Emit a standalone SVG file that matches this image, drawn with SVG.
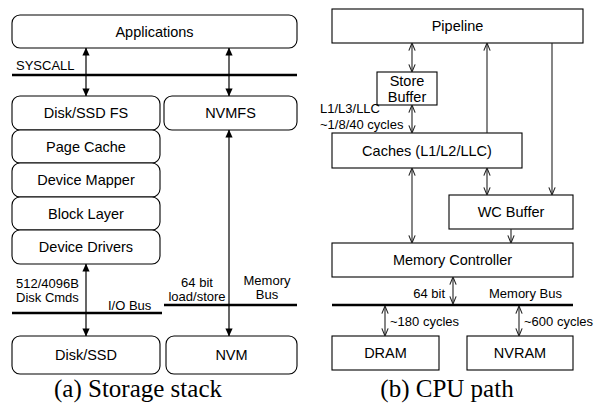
<svg xmlns="http://www.w3.org/2000/svg" width="596" height="411" viewBox="0 0 596 411">
  <style>
    .box { fill: #fff; stroke: #000; stroke-width: 1.1; }
    .lbl { font-family: "Liberation Sans", Arial, sans-serif; font-size: 14.5px; fill: #000; text-anchor: middle; }
    .sm { font-family: "Liberation Sans", Arial, sans-serif; font-size: 13px; fill: #000; }
    .bus { stroke: #000; stroke-width: 2.5; }
    .af { stroke: #000; stroke-width: 1.2; fill: none; }
    .ao { stroke: #222; stroke-width: 1.1; fill: none; }
    .cap { font-family: "Liberation Serif", "Times New Roman", serif; font-size: 25px; fill: #000; text-anchor: middle; }
  </style>
  <defs>
    <marker id="tri" viewBox="0 0 10 10" refX="9.5" refY="5" markerWidth="8" markerHeight="8" markerUnits="userSpaceOnUse" orient="auto-start-reverse">
      <path d="M0,0.5 L10,5 L0,9.5 Z" fill="#000"/>
    </marker>
    <marker id="vee" viewBox="0 0 10 10" refX="9.5" refY="5" markerWidth="9" markerHeight="9" markerUnits="userSpaceOnUse" orient="auto-start-reverse">
      <path d="M1,1.5 L9.5,5 L1,8.5" fill="none" stroke="#222" stroke-width="1.2"/>
    </marker>
  </defs>

  <!-- Storage stack -->
  <g id="applications"><rect class="box" x="12" y="15" width="285" height="33" rx="8"/><text class="lbl" x="154.5" y="36.5">Applications</text></g>
  <g id="disk-fs"><rect class="box" x="12" y="96" width="148" height="34" rx="8"/><text class="lbl" x="86" y="118">Disk/SSD FS</text></g>
  <g id="nvmfs"><rect class="box" x="164" y="96" width="133" height="34" rx="8"/><text class="lbl" x="230.5" y="118">NVMFS</text></g>
  <g id="page-cache"><rect class="box" x="12" y="130" width="148" height="33" rx="8"/><text class="lbl" x="86" y="151.5">Page Cache</text></g>
  <g id="device-mapper"><rect class="box" x="12" y="163" width="148" height="34" rx="8"/><text class="lbl" x="86" y="185">Device Mapper</text></g>
  <g id="block-layer"><rect class="box" x="12" y="197" width="148" height="33" rx="8"/><text class="lbl" x="86" y="218.5">Block Layer</text></g>
  <g id="device-drivers"><rect class="box" x="12" y="230" width="148" height="34" rx="8"/><text class="lbl" x="86" y="252">Device Drivers</text></g>
  <g id="disk-ssd"><rect class="box" x="12" y="336" width="148" height="38" rx="8"/><text class="lbl" x="86" y="360">Disk/SSD</text></g>
  <g id="nvm"><rect class="box" x="166" y="336" width="131" height="38" rx="8"/><text class="lbl" x="231.5" y="360">NVM</text></g>

  <!-- CPU path -->
  <g id="pipeline"><rect class="box" x="332" y="9" width="251" height="34"/><text class="lbl" x="457.5" y="31">Pipeline</text></g>
  <g id="store-buffer"><rect class="box" x="377" y="72" width="60" height="33"/><text class="lbl" x="407" y="86">Store</text><text class="lbl" x="407" y="102">Buffer</text></g>
  <g id="caches"><rect class="box" x="332" y="133" width="190" height="35"/><text class="lbl" x="427" y="155.5">Caches (L1/L2/LLC)</text></g>
  <g id="wc-buffer"><rect class="box" x="449" y="195" width="124" height="34"/><text class="lbl" x="511" y="217">WC Buffer</text></g>
  <g id="memory-controller"><rect class="box" x="332" y="243" width="241" height="34"/><text class="lbl" x="452.5" y="265">Memory Controller</text></g>
  <g id="dram"><rect class="box" x="332" y="336" width="107" height="34"/><text class="lbl" x="385.5" y="358">DRAM</text></g>
  <g id="nvram"><rect class="box" x="467" y="336" width="106" height="34"/><text class="lbl" x="520" y="358">NVRAM</text></g>

  <g id="connectors">
    <!-- buses -->
    <line class="bus" x1="12" y1="75" x2="297" y2="75"/>
    <line class="bus" x1="12" y1="313" x2="162" y2="313"/>
    <line class="bus" x1="164" y1="305" x2="297" y2="305"/>
    <line class="bus" x1="332" y1="305" x2="573" y2="305"/>
    <!-- storage stack arrows -->
    <line class="af" x1="86" y1="48" x2="86" y2="96" marker-start="url(#tri)" marker-end="url(#tri)"/>
    <line class="af" x1="229" y1="48" x2="229" y2="96" marker-start="url(#tri)" marker-end="url(#tri)"/>
    <line class="af" x1="86" y1="264" x2="86" y2="336" marker-start="url(#tri)" marker-end="url(#tri)"/>
    <line class="af" x1="229" y1="130" x2="229" y2="336" marker-start="url(#tri)" marker-end="url(#tri)"/>
    <!-- CPU path arrows -->
    <line class="ao" x1="412" y1="43" x2="412" y2="72" marker-start="url(#vee)" marker-end="url(#vee)"/>
    <line class="ao" x1="412" y1="105" x2="412" y2="133" marker-start="url(#vee)" marker-end="url(#vee)"/>
    <line class="ao" x1="487" y1="133" x2="487" y2="43" marker-end="url(#vee)"/>
    <line class="ao" x1="552" y1="43" x2="552" y2="195" marker-end="url(#vee)"/>
    <line class="ao" x1="412" y1="168" x2="412" y2="243" marker-start="url(#vee)" marker-end="url(#vee)"/>
    <line class="ao" x1="487" y1="168" x2="487" y2="195" marker-start="url(#vee)" marker-end="url(#vee)"/>
    <line class="ao" x1="511" y1="229" x2="511" y2="243" marker-end="url(#vee)"/>
    <line class="ao" x1="453" y1="277" x2="453" y2="304" marker-start="url(#vee)" marker-end="url(#vee)"/>
    <line class="ao" x1="385" y1="306" x2="385" y2="336" marker-start="url(#vee)" marker-end="url(#vee)"/>
    <line class="ao" x1="519" y1="306" x2="519" y2="336" marker-start="url(#vee)" marker-end="url(#vee)"/>
  </g>

  <!-- bus and latency labels -->
  <text class="sm" x="16" y="70">SYSCALL</text>
  <text class="sm" x="16" y="288">512/4096B</text>
  <text class="sm" x="16" y="302">Disk Cmds</text>
  <text class="sm" x="108" y="310">I/O Bus</text>
  <text class="sm" x="197" y="287" text-anchor="middle">64 bit</text>
  <text class="sm" x="197" y="301" text-anchor="middle">load/store</text>
  <text class="sm" x="267" y="285" text-anchor="middle">Memory</text>
  <text class="sm" x="267" y="299" text-anchor="middle">Bus</text>
  <text class="sm" x="320" y="113">L1/L3/LLC</text>
  <text class="sm" x="320" y="129">~1/8/40 cycles</text>
  <text class="sm" x="445" y="298" text-anchor="end">64 bit</text>
  <text class="sm" x="489" y="298">Memory Bus</text>
  <text class="sm" x="390" y="326">~180 cycles</text>
  <text class="sm" x="524" y="326">~600 cycles</text>

  <text class="cap" x="138" y="397">(a) Storage stack</text>
  <text class="cap" x="447" y="397">(b) CPU path</text>
</svg>
